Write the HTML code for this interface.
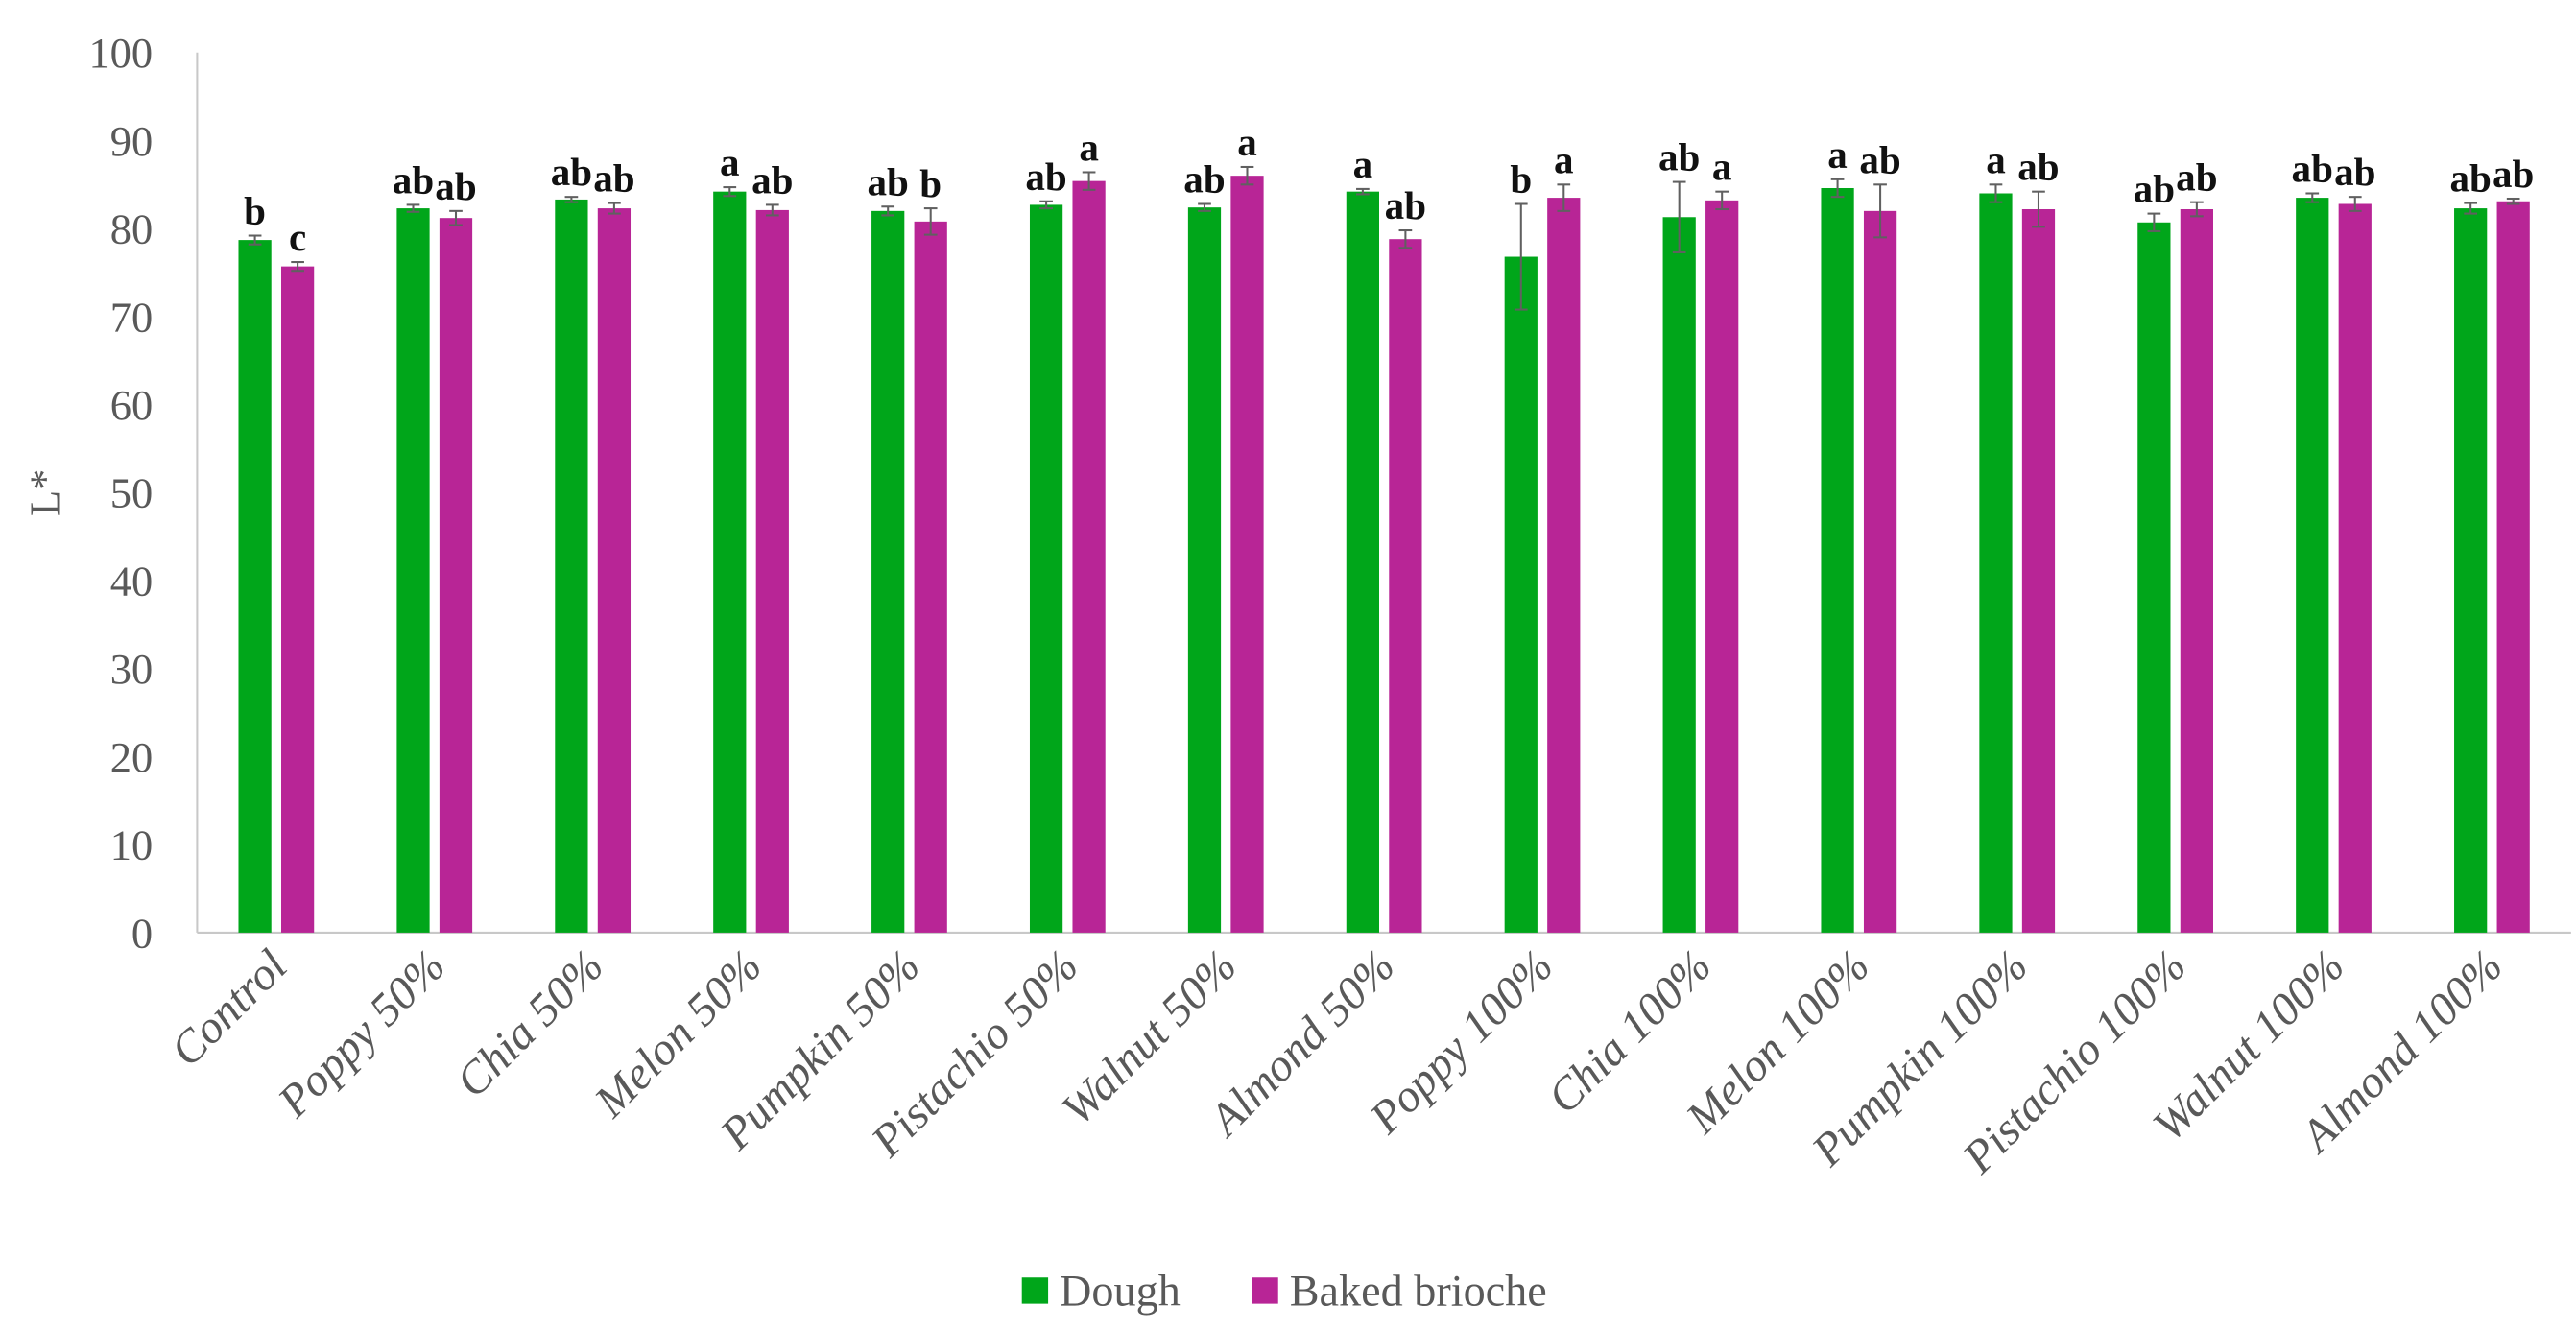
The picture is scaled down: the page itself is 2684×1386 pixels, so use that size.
<!DOCTYPE html>
<html><head><meta charset="utf-8"><style>
html,body{margin:0;padding:0;background:#fff;}
svg{display:block;}
</style></head>
<body>
<svg id="chart" width="2684" height="1386" viewBox="0 0 1568 810" preserveAspectRatio="none" xmlns="http://www.w3.org/2000/svg">
<g id="axes"></g><g id="bars"></g><g id="labels"></g>
</svg>
<script>
const categories = ["Control","Poppy 50%","Chia 50%","Melon 50%","Pumpkin 50%","Pistachio 50%","Walnut 50%","Almond 50%","Poppy 100%","Chia 100%","Melon 100%","Pumpkin 100%","Pistachio 100%","Walnut 100%","Almond 100%"];
const doughValues = [78.7,82.3,83.3,84.2,82.0,82.7,82.4,84.2,76.8,81.3,84.6,84.0,80.7,83.5,82.3];
const doughErrors = [0.5,0.4,0.3,0.5,0.5,0.4,0.4,0.3,6.0,4.0,1.0,1.0,1.0,0.5,0.6];
const doughLetters = ["b","ab","ab","a","ab","ab","ab","a","b","ab","a","a","ab","ab","ab"];
const bakedValues = [75.7,81.2,82.3,82.1,80.8,85.4,86.0,78.8,83.5,83.2,82.0,82.2,82.2,82.8,83.1];
const bakedErrors = [0.5,0.8,0.6,0.6,1.5,1.0,1.0,1.0,1.5,1.0,3.0,2.0,0.8,0.8,0.3];
const bakedLetters = ["c","ab","ab","ab","b","a","a","ab","a","a","ab","ab","ab","ab","ab"];
const yTicks = [0,10,20,30,40,50,60,70,80,90,100];
const seriesNames = ["Dough","Baked brioche"];

const NS="http://www.w3.org/2000/svg";
const X0=120,X1=1565,Y0=568,YT=32;
function y(v){return Y0-(v/100)*(Y0-YT);}
function xc(i){return X0+(i+0.5)*(X1-X0)/categories.length;}
function mk(tag,attrs,parent,text){const e=document.createElementNS(NS,tag);for(const k in attrs)e.setAttribute(k,attrs[k]);if(text!==undefined)e.textContent=text;parent.appendChild(e);return e;}
const axes=document.getElementById('axes'),bars=document.getElementById('bars'),labels=document.getElementById('labels');
const serif='"Liberation Serif", serif';

let yl=mk('line',{x1:X0,y1:YT,x2:X0,y2:Y0,stroke:'#c8c8c8','stroke-width':1.2},axes);


let xl=mk('line',{x1:X0,y1:Y0,x2:X1,y2:Y0,stroke:'#c8c8c8','stroke-width':1.2},axes);


yTicks.forEach(t=>{
  const e=mk('text',{x:93,y:y(t)+9,'text-anchor':'end','font-family':serif,'font-size':26,fill:'#595959'},axes,String(t));
  
  
});
let yt=mk('text',{x:36,y:300,'text-anchor':'middle','font-family':serif,'font-size':26,fill:'#595959',transform:'rotate(-90 36 300)'},axes,'L*');



const BW=20,OFF=13;
function drawBar(cx,v,err,letter,color,name){
  const top=y(v);
  const r=mk('rect',{x:cx-BW/2,y:top,width:BW,height:Y0-top,fill:color},bars);
  
  
  const eg=mk('g',{stroke:'#606060','stroke-width':1.2},bars);
  
  
  mk('line',{x1:cx,x2:cx,y1:y(v+err),y2:y(v-err)},eg);
  mk('line',{x1:cx-4,x2:cx+4,y1:y(v+err),y2:y(v+err)},eg);
  mk('line',{x1:cx-4,x2:cx+4,y1:y(v-err),y2:y(v-err)},eg);
  const t=mk('text',{x:cx,y:y(v+err)-7,'text-anchor':'middle','font-family':serif,'font-size':24,'font-weight':'bold',fill:'#111'},labels,letter);
  
  
}
categories.forEach((c,i)=>{
  const cx=xc(i);
  drawBar(cx-OFF,doughValues[i],doughErrors[i],doughLetters[i],'#00a61a','bar-dough');
  drawBar(cx+OFF,bakedValues[i],bakedErrors[i],bakedLetters[i],'#b82596','bar-baked');
  const tx=cx+8,ty=590;
  const t=mk('text',{x:tx,y:ty,'text-anchor':'end','font-family':serif,'font-size':28,'font-style':'italic',fill:'#595959',transform:`rotate(-45 ${tx} ${ty})`},labels,c);
  
  
});

const lg=mk('g',{},labels);


const legendColors=['#00a61a','#b82596'],legendX=[622,762];
seriesNames.forEach((n,i)=>{
  const g=mk('g',{},lg);
  
  
  mk('rect',{x:legendX[i],y:778,width:16,height:16,fill:legendColors[i]},g);
  mk('text',{x:legendX[i]+23,y:795,'font-family':serif,'font-size':27,fill:'#595959'},g,n);
});
</script>
</body></html>
